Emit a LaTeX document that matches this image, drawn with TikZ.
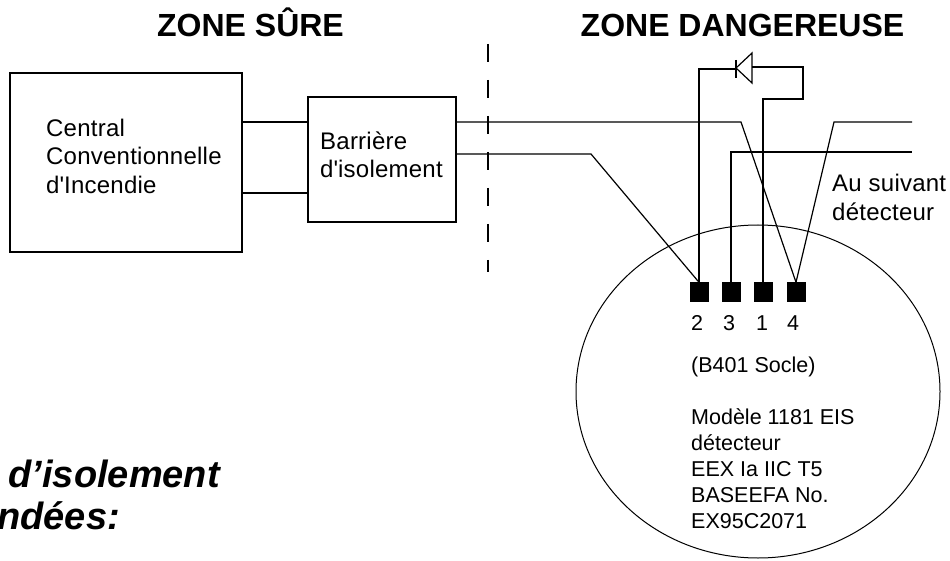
\documentclass[tikz,border=0pt]{standalone}
\usepackage{fontspec}
\setmainfont{Liberation Sans}
\newfontfamily\labelfont[LetterSpace=1]{Liberation Sans}
\usepackage{xcolor}
\usepackage{tikz}
\usetikzlibrary{shapes,positioning}

\tikzset{
  wire/.style={line width=1.2pt, black},
  boxnode/.style={draw, rectangle, line width=1.3pt, inner sep=0pt},
  terminal/.style={draw, rectangle, fill=black, minimum width=18pt, minimum height=19pt, inner sep=0pt},
  smalltext/.style={font=\labelfont\fontsize{24}{28.5}\selectfont, align=left, inner sep=0pt},
  numtext/.style={font=\fontsize{21.5}{26}\selectfont, inner sep=0pt},
  title/.style={font=\fontsize{32}{36}\selectfont\bfseries, inner sep=0pt, anchor=base},
  cuttext/.style={font=\fontsize{38}{42}\selectfont\bfseries\itshape, anchor=base east, inner sep=0pt}
}

\begin{document}
\begin{tikzpicture}[x=1pt, y=-1pt]
\useasboundingbox (0,0) rectangle (950,561);

% Titles
\node[title] (safe) at (250.5,37) {ZONE SÛRE};
\node[title] (danger) at (742.5,37) {ZONE DANGEREUSE};

% Boxes
\node[boxnode, minimum width=232pt, minimum height=179pt] (central) at (126,162.5) {};
\node[boxnode, minimum width=148pt, minimum height=125pt] (barrier) at (382,159.5) {};
\node[smalltext, anchor=west] (centraltext) at (46,156) {Central\\Conventionnelle\\d\textquotesingle Incendie};
\node[smalltext, anchor=west] (barriertext) at (320,155) {Barrière\\d\textquotesingle isolement};

% Detector base
\node[draw, ellipse, line width=1pt, minimum width=364pt, minimum height=333pt, inner sep=0pt] (socle) at (758,391.5) {};

% Terminals
\node[terminal] (t2) at (699,292) {};
\node[terminal, right of=t2, node distance=32pt] (t3) {};
\node[terminal, right of=t3, node distance=32pt] (t1) {};
\node[terminal, right of=t1, node distance=33pt] (t4) {};

% Terminal numbers
\node[numtext] (n2) at (697,323) {2};
\node[numtext] (n3) at (729,323) {3};
\node[numtext] (n1) at (762,323) {1};
\node[numtext] (n4) at (793,323) {4};

% Texts
\node[smalltext, anchor=west] (nexttext) at (832,197.5) {Au suivant\\détecteur};
\node[numtext, anchor=west] (bases) at (691,367) {(B401 Socle)};
\node[numtext, anchor=north west, align=left] (model) at (691,408) {Modèle 1181 EIS\\détecteur\\EEX Ia IIC T5\\BASEEFA No.\\EX95C2071};
\node[cuttext] (cuta) at (220,487) {d’isolement};
\node[cuttext] (cutb) at (120,529) {ndées:};

% Zone border
\coordinate (bordertop) at (488,44);
\coordinate (borderbot) at (488,272);
\draw[line width=1.3pt, dash pattern=on 18pt off 18pt] (bordertop) -- (borderbot);

% Links between the boxes
\draw[wire] (central.east |- 0,122) -- (barrier.west |- 0,122);
\draw[wire] (central.east |- 0,193) -- (barrier.west |- 0,193);

% Lines to the terminals
\coordinate (outa) at (912,122);
\coordinate (outb) at (912,152);
\draw[wire] (barrier.east |- 0,122) -- (741,122) -- (t4.north);
\draw[wire] (t4.north) -- (834,122) -- (outa);
\draw[wire] (barrier.east |- 0,154) -- (591,154) -- (t2.north);
\draw[wire] (t3.north) -- (t3.north |- outb) -- (outb);

% Diode
\coordinate (cathode) at (736,69);
\coordinate (anode) at (752,67);
\draw[wire] (t2.north) -- (t2.north |- cathode) -- (cathode);
\draw[wire] (736,60) -- (736,78);
\draw[wire] (736,68) -- (752,53) -- (752,83) -- cycle;
\draw[wire] (anode) -- (803,67) -- (803,99) -- (t1.north |- 0,99) -- (t1.north);
\end{tikzpicture}
\end{document}
